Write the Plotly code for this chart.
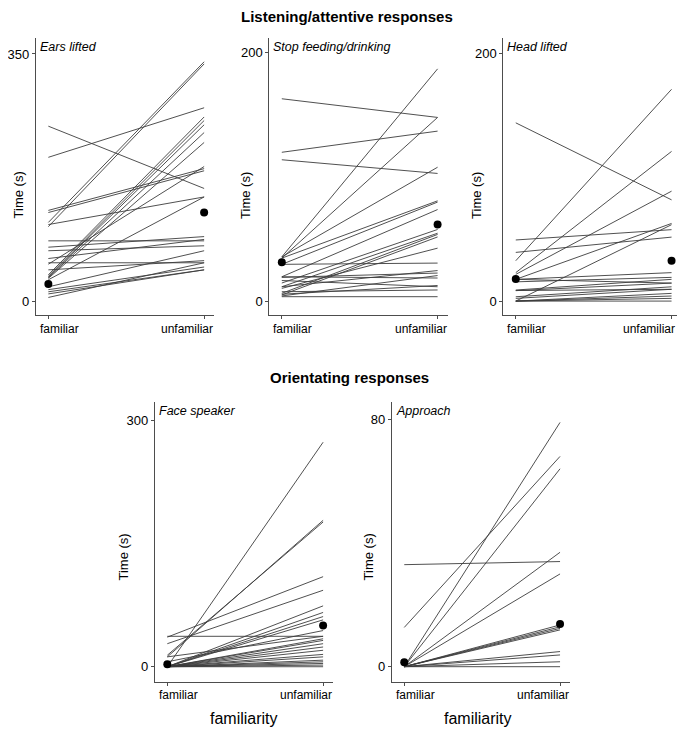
"""
Listening/attentive and orientating responses, familiar vs unfamiliar
"""
import plotly.graph_objects as go

FONT = "Liberation Sans, Arial, sans-serif"
OFF = 8  # page body margin, so figure is drawn 8px in from the window corner
FW, FH = 685 - OFF, 729 - OFF
VISIBLE_RIGHT = 676.5  # the plot div is clipped at 685 - 2*8

cond_labels = ["familiar", "unfamiliar"]

# each individual: time (s) at familiar / unfamiliar playback
ears_fam = [248, 204, 129, 126, 112, 106, 109, 86, 77, 72, 61, 55, 53, 45,
            38, 36, 35, 34, 33, 31, 21, 17, 14, 11, 6]
ears_unfam = [160, 274, 188, 185, 339, 336, 148, 86, 92, 79, 88, 55, 191, 58,
              261, 256, 250, 239, 225, 148, 72, 49, 45, 45, 55]
ears_dots = [25, 126]

feed_fam = [163, 120, 114, 36, 35, 36, 35, 30, 30, 20, 19.5, 17, 15, 12,
            10.7, 6.7, 5.4, 4.6, 4, 12, 6, 20, 8]
feed_unfam = [148, 137, 103, 187, 148, 108, 81, 80, 31, 74, 23, 12, 58, 55,
              43, 54, 52, 21, 4, 25, 13, 19, 9.4]
feed_dots = [31.6, 62]

head_fam = [144, 49.7, 39.7, 33, 23.4, 22, 18, 0.5, 18, 16, 9.4, 8.9, 4,
            2.7, 0.5, 0.5, 0.5, 0.5, 18, 9]
head_unfam = [82, 58, 52, 171, 121, 89, 63, 62, 23.4, 19.6, 18, 15, 12,
              10, 6.7, 4.6, 2.7, 0.5, 15, 10]
head_dots = [18.3, 33]

face_fam = [0, 12, 14, 37, 36, 28, 0, 0, 0, 0, 12, 0, 0, 0, 0, 0, 0, 0, 0,
            0, 0, 0, 0, 6]
face_unfam = [273, 178, 176, 37, 109.5, 93, 74, 66, 61, 57, 37, 34, 32, 28,
              24, 20, 15, 12, 8, 6, 4, 2, 0, 44]
face_dots = [3, 50]

appr_fam = [33, 12.7, 0, 0, 0, 0, 0, 0, 0, 0, 0, 0, 0, 0]
appr_unfam = [34, 68, 79, 64, 37, 30, 13.5, 12.9, 12.4, 11.9, 4.9, 3.8, 1.6, 0]
appr_dots = [1.4, 13.8]


def px(x):
    return (x - OFF) / FW


def py(y):
    return 1 - (y - OFF) / FH


panels = [
    dict(title="Ears lifted", fam=ears_fam, unfam=ears_unfam, dots=ears_dots,
         ymax=350, left=33, top=38, bottom=315, yr=[-18.8, 372.6], ytitle=15.5),
    dict(title="Stop feeding/drinking", fam=feed_fam, unfam=feed_unfam, dots=feed_dots,
         ymax=200, left=267.5, top=38, bottom=315, yr=[-10.7, 211.8], ytitle=243),
    dict(title="Head lifted", fam=head_fam, unfam=head_unfam, dots=head_dots,
         ymax=200, left=502.5, top=38, bottom=315, yr=[-10.7, 212.3], ytitle=475),
    dict(title="Face speaker", fam=face_fam, unfam=face_unfam, dots=face_dots,
         ymax=300, left=152.5, top=402, bottom=681.7, yr=[-18.2, 321.9], ytitle=120),
    dict(title="Approach", fam=appr_fam, unfam=appr_unfam, dots=appr_dots,
         ymax=80, left=390.5, top=402, bottom=681.7, yr=[-4.85, 85.6], ytitle=367),
]

fig = go.Figure()
layout = dict(width=FW, height=FH, autosize=False, margin=dict(l=0, r=0, t=0, b=0),
              paper_bgcolor="white", plot_bgcolor="white", showlegend=False,
              font=dict(family=FONT, color="black"))
annotations = []
PANEL_W = 179

for i, p in enumerate(panels, start=1):
    sfx = "" if i == 1 else str(i)
    xs, ys = [], []
    for f, u in zip(p["fam"], p["unfam"]):
        xs += [0, 1, None]
        ys += [f, u, None]
    fig.add_trace(go.Scatter(x=xs, y=ys, mode="lines", xaxis="x" + sfx, yaxis="y" + sfx,
                             line=dict(color="rgb(60,60,60)", width=0.9),
                             hoverinfo="skip"))
    fig.add_trace(go.Scatter(x=[0, 1], y=p["dots"], mode="markers",
                             xaxis="x" + sfx, yaxis="y" + sfx,
                             marker=dict(color="black", size=8)))

    layout["xaxis" + sfx] = dict(
        domain=[px(p["left"]), px(p["left"] + PANEL_W)], range=[-0.08, 1.064],
        anchor="y" + sfx, tickvals=[0, 1], showticklabels=False,
        showline=True, linecolor="#4d4d4d", linewidth=1, ticks="outside",
        ticklen=3, tickcolor="#4d4d4d", showgrid=False, zeroline=False,
        fixedrange=True)
    layout["yaxis" + sfx] = dict(
        domain=[py(p["bottom"]), py(p["top"])], range=p["yr"],
        anchor="x" + sfx, tickvals=[0, p["ymax"]],
        showline=True, linecolor="#4d4d4d", linewidth=1, ticks="outside",
        ticklen=3, tickcolor="#4d4d4d", showgrid=False, zeroline=False,
        tickfont=dict(size=13, family=FONT, color="black"), fixedrange=True)

    # condition labels sit inside the axis span (left / right aligned)
    lab_y = py(p["bottom"] + 13.5)
    annotations.append(dict(text=cond_labels[0], xref="paper", yref="paper",
                            x=px(p["left"] + 2), y=lab_y, xanchor="left", yanchor="middle",
                            showarrow=False,
                            font=dict(size=12, family=FONT, color="black")))
    annotations.append(dict(text=cond_labels[1], xref="paper", yref="paper",
                            x=px(min(p["left"] + PANEL_W + 1, VISIBLE_RIGHT)), y=lab_y,
                            xanchor="right", yanchor="middle", showarrow=False,
                            font=dict(size=12, family=FONT, color="black")))

    # panel name, italic, just right of the y axis
    annotations.append(dict(text="<i>%s</i>" % p["title"], xref="paper", yref="paper",
                            x=px(p["left"] + 2), y=py(p["top"] + 9),
                            xanchor="left", yanchor="middle", showarrow=False,
                            font=dict(size=12.5, family=FONT, color="black")))
    ymid = 195 if p["top"] < 100 else 557
    annotations.append(dict(text="Time (s)", xref="paper", yref="paper",
                            x=px(p["ytitle"]), y=py(ymid), textangle=-90,
                            xanchor="center", yanchor="middle", showarrow=False,
                            font=dict(size=13, family=FONT, color="black")))

# section headings
annotations.append(dict(text="<b>Listening/attentive responses</b>", xref="paper", yref="paper",
                        x=px(345), y=py(17), xanchor="center", yanchor="middle",
                        showarrow=False, font=dict(size=15, family=FONT, color="black")))
annotations.append(dict(text="<b>Orientating responses</b>", xref="paper", yref="paper",
                        x=px(348), y=py(377), xanchor="center", yanchor="middle",
                        showarrow=False, font=dict(size=15, family=FONT, color="black")))
for xc in [242, 477]:
    annotations.append(dict(text="familiarity", xref="paper", yref="paper",
                            x=px(xc), y=py(718), xanchor="center", yanchor="middle",
                            showarrow=False, font=dict(size=16, family=FONT, color="black")))

layout["annotations"] = annotations
fig.update_layout(**layout)
fig.write_html("out.html")
